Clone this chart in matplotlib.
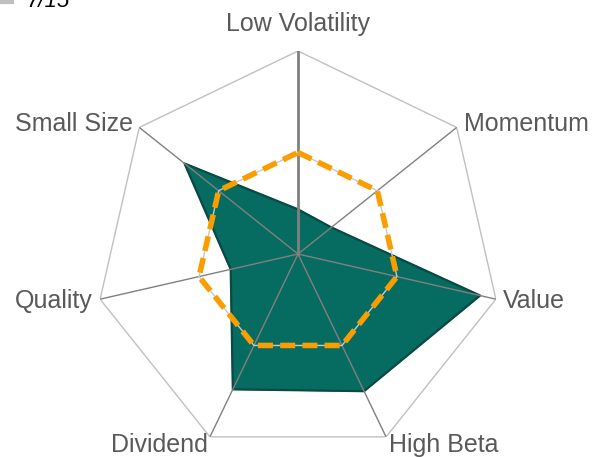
import numpy as np
import matplotlib

matplotlib.use("Agg")
import matplotlib.pyplot as plt

# factor exposures, clockwise from the top
factors = ["Low Volatility", "Momentum", "Value", "High Beta",
           "Dividend", "Quality", "Small Size"]
portfolio = [0.44, 0.42, 1.84, 1.50, 1.48, 0.68, 1.43]
benchmark = [1.0, 1.0, 1.0, 1.0, 1.0, 1.0, 1.0]
r_max = 2.0

plt.rcParams["font.family"] = ["Liberation Sans Narrow", "Liberation Sans", "DejaVu Sans"]

W, H = 593, 457
fig = plt.figure(figsize=(W / 100, H / 100), dpi=100)
cx, cy, R = 298, 254, 203
ax = fig.add_axes([(cx - R) / W, (H - cy - R) / H, 2 * R / W, 2 * R / H],
                  projection="polar")
ax.set_theta_offset(np.pi / 2)
ax.set_theta_direction(-1)
ax.set_ylim(0, r_max)
ax.axis("off")

n = len(factors)
theta = np.arange(n) * 2 * np.pi / n
closed = np.append(theta, theta[0])


def ring(vals):
    return np.append(vals, vals[0])


# outer heptagon and spokes
ax.plot(closed, [r_max] * (n + 1), color="#c0c0c0", lw=1.0, zorder=1)
for i, t in enumerate(theta):
    ax.plot([t, t], [0, r_max], color="#808080",
            lw=2.0 if i == 0 else 1.0, zorder=3)

# portfolio polygon
ax.fill(closed, ring(portfolio), color="#066b60", zorder=2)
ax.plot(closed, ring(portfolio), color="#0b4a43", lw=1.6, zorder=2)

# benchmark dashed heptagon
ax.plot(closed, ring(benchmark), color="#c8c8c8", lw=1.0, zorder=4)
ax.plot(closed, ring(benchmark), color="#fa9e00", lw=4.0,
        dashes=(2.7, 1.3), zorder=5)

# axis labels
label_pos = {
    "Low Volatility": (298, 24, "center"),
    "Momentum": (464, 124, "left"),
    "Value": (503, 301, "left"),
    "High Beta": (389, 445, "left"),
    "Dividend": (208, 445, "right"),
    "Quality": (93, 301, "right"),
    "Small Size": (133, 124, "right"),
}
for name in factors:
    x, y, ha = label_pos[name]
    fig.text(x / W, 1 - y / H, name, ha=ha, va="center",
             fontsize=18, color="#595959")

# legend remnant cut off at the top
fig.add_artist(plt.Line2D([0, 12 / W], [1 - 2 / H, 1 - 2 / H],
                          color="#bfbfbf", lw=3))
fig.text(27 / W, 1 - 7 / H, "7/15", ha="left", va="baseline",
         fontsize=16, style="italic", color="black")

fig.savefig("out.png", dpi=100)
